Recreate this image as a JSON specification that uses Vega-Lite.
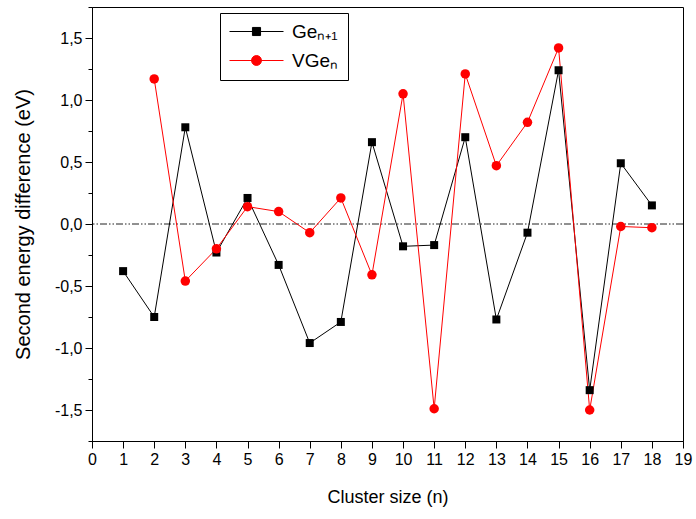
{
  "$schema": "https://vega.github.io/schema/vega-lite/v6.json",
  "width": 591,
  "height": 434,
  "autosize": {"type": "none"},
  "padding": {"left": 92, "top": 7, "right": 13, "bottom": 78},
  "background": "white",
  "config": {
    "font": "Liberation Sans",
    "view": {"stroke": "black", "strokeWidth": 1},
    "axis": {"domainColor": "black", "tickColor": "black", "labelColor": "black", "titleColor": "black", "titleFontWeight": "normal", "grid": false, "labelFont": "Liberation Sans", "titleFont": "Liberation Sans"}
  },
  "data": {
    "values": [
      {"n": 1, "value": -0.38, "series": "Geₙ₊₁"},
      {"n": 2, "value": -0.75, "series": "Geₙ₊₁"},
      {"n": 3, "value": 0.78, "series": "Geₙ₊₁"},
      {"n": 4, "value": -0.23, "series": "Geₙ₊₁"},
      {"n": 5, "value": 0.21, "series": "Geₙ₊₁"},
      {"n": 6, "value": -0.33, "series": "Geₙ₊₁"},
      {"n": 7, "value": -0.96, "series": "Geₙ₊₁"},
      {"n": 8, "value": -0.79, "series": "Geₙ₊₁"},
      {"n": 9, "value": 0.66, "series": "Geₙ₊₁"},
      {"n": 10, "value": -0.18, "series": "Geₙ₊₁"},
      {"n": 11, "value": -0.17, "series": "Geₙ₊₁"},
      {"n": 12, "value": 0.70, "series": "Geₙ₊₁"},
      {"n": 13, "value": -0.77, "series": "Geₙ₊₁"},
      {"n": 14, "value": -0.07, "series": "Geₙ₊₁"},
      {"n": 15, "value": 1.24, "series": "Geₙ₊₁"},
      {"n": 16, "value": -1.34, "series": "Geₙ₊₁"},
      {"n": 17, "value": 0.49, "series": "Geₙ₊₁"},
      {"n": 18, "value": 0.15, "series": "Geₙ₊₁"},
      {"n": 2, "value": 1.17, "series": "VGeₙ"},
      {"n": 3, "value": -0.46, "series": "VGeₙ"},
      {"n": 4, "value": -0.20, "series": "VGeₙ"},
      {"n": 5, "value": 0.14, "series": "VGeₙ"},
      {"n": 6, "value": 0.10, "series": "VGeₙ"},
      {"n": 7, "value": -0.07, "series": "VGeₙ"},
      {"n": 8, "value": 0.21, "series": "VGeₙ"},
      {"n": 9, "value": -0.41, "series": "VGeₙ"},
      {"n": 10, "value": 1.05, "series": "VGeₙ"},
      {"n": 11, "value": -1.49, "series": "VGeₙ"},
      {"n": 12, "value": 1.21, "series": "VGeₙ"},
      {"n": 13, "value": 0.47, "series": "VGeₙ"},
      {"n": 14, "value": 0.82, "series": "VGeₙ"},
      {"n": 15, "value": 1.42, "series": "VGeₙ"},
      {"n": 16, "value": -1.50, "series": "VGeₙ"},
      {"n": 17, "value": -0.02, "series": "VGeₙ"},
      {"n": 18, "value": -0.03, "series": "VGeₙ"}
    ]
  },
  "encoding": {
    "x": {
      "field": "n", "type": "quantitative",
      "scale": {"domain": [0, 19], "nice": false, "zero": false},
      "axis": {
        "title": "Cluster size (n)",
        "values": [0,1,2,3,4,5,6,7,8,9,10,11,12,13,14,15,16,17,18,19],
        "format": "d",
        "labelFontSize": 16, "titleFontSize": 18,
        "tickSize": 7, "labelPadding": 3, "titlePadding": 21,
        "labelFlush": false, "labelOverlap": false
      }
    },
    "y": {
      "field": "value", "type": "quantitative",
      "scale": {"domain": [-1.75, 1.75], "nice": false, "zero": false},
      "axis": {
        "title": "Second energy difference (eV)",
        "values": [-1.75,-1.5,-1.25,-1,-0.75,-0.5,-0.25,0,0.25,0.5,0.75,1,1.25,1.5,1.75],
        "labelExpr": "abs(datum.value*2 - round(datum.value*2)) < 0.01 ? replace(replace(format(datum.value, '.1f'), '.', ','), '−', '-') : ''",
        "labelFontSize": 16, "titleFontSize": 20,
        "tickSize": {"condition": {"test": "abs(datum.value*2 - round(datum.value*2)) < 0.01", "value": 7}, "value": 4},
        "labelPadding": 3, "titlePadding": 21,
        "labelFlush": false, "labelOverlap": false
      }
    },
    "color": {
      "field": "series", "type": "nominal",
      "scale": {"domain": ["Geₙ₊₁", "VGeₙ"], "range": ["#000000", "#ff0000"]},
      "legend": {
        "orient": "none", "legendX": 128, "legendY": 6,
        "title": null,
        "strokeColor": "black", "fillColor": "white",
        "padding": 9, "symbolSize": 324, "labelOffset": 44,
        "labelFontSize": 19, "labelColor": "black", "rowPadding": 9,
        "labelFont": "Liberation Sans",
        "symbolType": "M-1,0L5,0M1.55,-0.45L2.45,-0.45L2.45,0.45L1.55,0.45Z",
        "encode": {
          "symbols": {
            "update": {
              "shape": {"signal": "datum.index === 0 ? 'M-1,0L5,0M1.55,-0.45L2.45,-0.45L2.45,0.45L1.55,0.45Z' : 'M-1,0L5,0M1.45,0A0.55,0.55,0,1,0,2.55,0A0.55,0.55,0,1,0,1.45,0Z'"},
              "fill": {"signal": "datum.index === 0 ? '#000000' : '#ff0000'"},
              "stroke": {"signal": "datum.index === 0 ? '#000000' : '#ff0000'"},
              "strokeWidth": {"value": 1},
              "opacity": {"value": 1}
            }
          }
        }
      }
    }
  },
  "layer": [
    {
      "data": {"values": [{"z": 0}]},
      "mark": {"type": "rule", "stroke": "#222222", "strokeWidth": 1, "strokeDash": [7, 2, 1.5, 2, 1.5, 2]},
      "encoding": {"y": {"field": "z", "type": "quantitative"}, "x": null, "color": null}
    },
    {
      "mark": {"type": "line", "strokeWidth": 1}
    },
    {
      "transform": [{"filter": "datum.series === 'Geₙ₊₁'"}],
      "mark": {"type": "square", "size": 64, "opacity": 1}
    },
    {
      "transform": [{"filter": "datum.series === 'VGeₙ'"}],
      "mark": {"type": "circle", "size": 90, "opacity": 1}
    }
  ]
}
